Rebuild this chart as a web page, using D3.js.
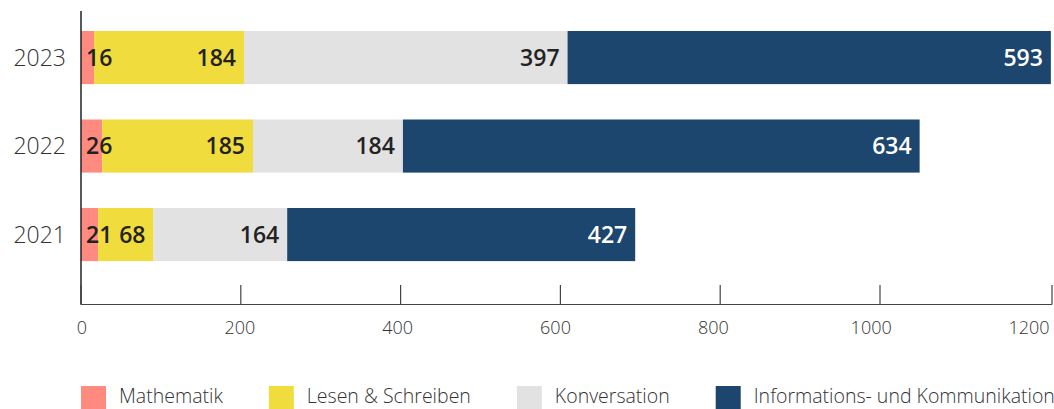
<!DOCTYPE html>
<html><head><meta charset="utf-8">
<script src="https://cdn.jsdelivr.net/npm/d3@7"></script>
<style>
html,body{margin:0;padding:0;background:#fff;}
svg{display:block;font-family:"Open Sans", Lato, sans-serif;}
</style></head>
<body>
<svg id="chart" width="1054" height="409"></svg>
<script>
const years = ["2023", "2022", "2021"];
const seriesNames = ["Mathematik", "Lesen & Schreiben", "Konversation", "Informations- und Kommunikation"];
const mathematik = [16, 26, 21];
const lesen = [184, 185, 68];
const konversation = [397, 184, 164];
const information = [593, 634, 427];
const tickValues = [0, 200, 400, 600, 800, 1000, 1200];
const colors = ["#ff8a80", "#f1dc3d", "#e2e2e2", "#1c466d"];
const labelColors = ["#222", "#222", "#222", "#fff"];

const svg = d3.select("#chart");
const rows = years.map((y, i) => ({year: y, vals: [mathematik[i], lesen[i], konversation[i], information[i]]}));

// scales
const xBar = d3.scaleLinear().domain([0, 1200]).range([81, 1059]);
const xTick = d3.scaleLinear().domain([0, 1000, 1200]).range([81, 880, 1052]);
const xTickLabel = d3.scaleLinear().domain([0, 1200]).range([82, 1029]);
const y = d3.scaleBand().domain(years).range([13.3, 278.8]).paddingInner(0.4).paddingOuter(0.2);

// bars
rows.forEach(r => {
  let acc = 0;
  const g = svg.append("g");
  r.vals.forEach((v, k) => {
    const x0 = acc, x1 = acc + v; acc = x1;
    g.append("rect")
      .attr("x", xBar(x0)).attr("y", y(r.year))
      .attr("width", xBar(x1) - xBar(x0)).attr("height", y.bandwidth())
      .attr("fill", colors[k]);
  });
});
// value labels
rows.forEach(r => {
  let acc = 0;
  r.vals.forEach((v, k) => {
    const x0 = acc, x1 = acc + v; acc = x1;
    const t = svg.append("text")
      .attr("y", y(r.year) + y.bandwidth() / 2)
      .attr("dy", "0.36em")
      .attr("font-size", 23).attr("font-weight", 600)
      .attr("fill", labelColors[k])
      .text(v);
    const w = t.node().getComputedTextLength();
    const segW = xBar(x1) - xBar(x0);
    if (w + 14 > segW) {
      t.attr("x", xBar(x0) + 5).attr("text-anchor", "start");
    } else {
      t.attr("x", xBar(x1) - 8).attr("text-anchor", "end");
    }
  });
});

// y axis line and year labels
svg.append("line").attr("x1", 81).attr("x2", 81).attr("y1", 11).attr("y2", 304.5)
  .attr("stroke", "#222").attr("stroke-width", 1.5);
svg.selectAll(".ylab").data(years).enter().append("text")
  .attr("x", 66).attr("y", d => y(d) + y.bandwidth() / 2).attr("dy", "0.36em")
  .attr("text-anchor", "end").attr("font-size", 23).attr("font-weight", 300)
  .attr("fill", "#333").text(d => d);

// x axis
const ax = svg.append("g");
ax.append("line").attr("x1", xTick(0)).attr("x2", xTick(1200)).attr("y1", 304.5).attr("y2", 304.5)
  .attr("stroke", "#444").attr("stroke-width", 1.2);
ax.selectAll(".tk").data(tickValues).enter().append("line")
  .attr("x1", d => xTick(d)).attr("x2", d => xTick(d))
  .attr("y1", 285).attr("y2", 304.5).attr("stroke", "#444").attr("stroke-width", 1.2);
ax.selectAll(".tl").data(tickValues).enter().append("text")
  .attr("x", d => xTickLabel(d)).attr("y", 334)
  .attr("text-anchor", "middle").attr("font-size", 18).attr("font-weight", 300)
  .attr("fill", "#333").text(d => d);

// legend
const lg = svg.append("g");
let lx = 81;
seriesNames.forEach((n, k) => {
  lg.append("rect").attr("x", lx).attr("y", 386).attr("width", 25).attr("height", 23).attr("fill", colors[k]);
  const t = lg.append("text").attr("x", lx + 38).attr("y", 396).attr("dy", "0.36em")
    .attr("font-size", 19.5).attr("font-weight", 300).attr("fill", "#333").text(n);
  lx = lx + 38 + t.node().getComputedTextLength() + 46;
});
</script>
</body></html>
